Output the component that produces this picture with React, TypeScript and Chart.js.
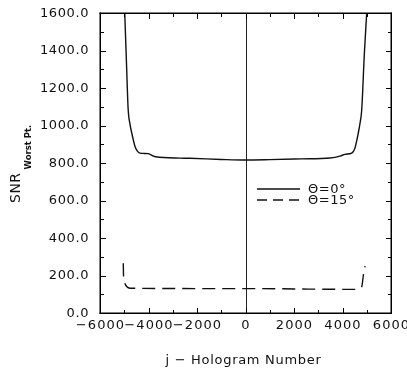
import React, { useEffect, useRef } from "react";
import { Chart, registerables } from "chart.js";

Chart.register(...registerables);

const xTicks = [-6000, -4000, -2000, 0, 2000, 4000, 6000];
const yTicks = [0, 200, 400, 600, 800, 1000, 1200, 1400, 1600];
const xMinorStep = 1000;
const yMinorStep = 100;

const seriesNames = ["\u0398=0\u00b0", "\u0398=15\u00b0"];

const theta0J = [-4980, -4910, -4840, -4760, -4690, -4620, -4550, -4450, -4350, -4180, -4020, -3850, -3700, -2700, -2300, -1000, 0, 1000, 2300, 3480, 3900, 4100, 4379, 4450, 4515, 4580, 4652, 4720, 4792, 4900, 4998];
const theta0V = [1600, 1340, 1090, 1005, 960, 920, 885, 862, 853, 851, 850, 840, 833, 826, 825, 819, 816, 818, 822, 827, 837, 846, 853, 862, 880, 915, 960, 1010, 1083, 1380, 1600];

const theta15J = [-5040, -5030, -4980, -4900, -4760, 0, 4580, 4790, 4860, 4930];
const theta15V = [265, 200, 160, 141, 132, 130, 126, 140, 200, 250];

const FONT = "'DejaVu Sans', sans-serif";

function fmtX(v: number) {
  return v < 0 ? "\u2212" + Math.abs(v) : String(v);
}

export default function App() {
  const ref = useRef<HTMLCanvasElement | null>(null);

  useEffect(() => {
    if (!ref.current) return;
    const framePlugin = {
      id: "frame",
      beforeDraw(chart: any) {
        const ctx = chart.ctx;
        ctx.save();
        ctx.fillStyle = "#fff";
        ctx.fillRect(0, 0, chart.width, chart.height);
        ctx.restore();
      },
      beforeDatasetsDraw(chart: any) {
        const ctx = chart.ctx;
        const a = chart.chartArea;
        const xs = chart.scales.x;
        ctx.save();
        ctx.fillStyle = "#222";
        const x0 = Math.round(xs.getPixelForValue(0));
        ctx.fillRect(x0, a.top, 1, a.bottom - a.top);
        ctx.restore();
      },
      afterDraw(chart: any) {
        const ctx = chart.ctx;
        const a = chart.chartArea;
        const xs = chart.scales.x;
        const ys = chart.scales.y;
        ctx.save();
        ctx.fillStyle = "#000";
        const L = Math.round(a.left);
        const R = Math.round(a.right);
        const T = Math.round(a.top);
        const B = Math.round(a.bottom);
        ctx.fillRect(L - 0.5, T - 0.5, R - L + 1.5, 1.5);
        ctx.fillRect(L - 0.5, B - 0.5, R - L + 1.5, 1.5);
        ctx.fillRect(L - 0.5, T - 0.5, 1.5, B - T + 1.5);
        ctx.fillRect(R - 0.5, T - 0.5, 1.5, B - T + 1.5);
        // ticks
        for (let v = xs.min; v <= xs.max; v += xMinorStep) {
          const px = Math.round(xs.getPixelForValue(v));
          const len = v % 2000 === 0 ? 5 : 3;
          ctx.fillRect(px, B - len, 1, len);
          ctx.fillRect(px, T + 1, 1, len);
        }
        for (let v = ys.min; v <= ys.max; v += yMinorStep) {
          const py = Math.round(ys.getPixelForValue(v));
          const len = v % 200 === 0 ? 5 : 3;
          ctx.fillRect(L + 1, py, len, 1);
          ctx.fillRect(R - len, py, len, 1);
        }
        // tick labels
        ctx.fillStyle = "#111";
        ctx.font = "13px " + FONT;
        (ctx as any).letterSpacing = "0.6px";
        ctx.textAlign = "right";
        ctx.textBaseline = "middle";
        yTicks.forEach((v) => {
          ctx.fillText(v.toFixed(1), a.left - 11, ys.getPixelForValue(v) + 0.5);
        });
        ctx.textAlign = "center";
        (ctx as any).letterSpacing = "1.1px";
        xTicks.forEach((v) => {
          ctx.fillText(fmtX(v), xs.getPixelForValue(v) + 0.5, a.bottom + 12.5);
        });
        // x title
        ctx.font = "13px " + FONT;
        (ctx as any).letterSpacing = "0.7px";
        ctx.fillText("j \u2212 Hologram Number", (a.left + a.right) / 2 - 2, 361);
        // y title
        ctx.save();
        ctx.translate(20, 203);
        ctx.rotate(-Math.PI / 2);
        ctx.textAlign = "left";
        ctx.textBaseline = "alphabetic";
        ctx.font = "14px " + FONT;
        (ctx as any).letterSpacing = "0.5px";
        ctx.fillText("SNR", 0, 0);
        const w = ctx.measureText("SNR").width;
        ctx.font = "bold 8.5px " + FONT;
        (ctx as any).letterSpacing = "0px";
        ctx.fillText("Worst Pt.", w + 3, 11);
        ctx.restore();
        // legend
        ctx.font = "13px " + FONT;
        (ctx as any).letterSpacing = "0.5px";
        ctx.textAlign = "left";
        ctx.textBaseline = "middle";
        ctx.strokeStyle = "#111";
        const lx0 = 257, lx1 = 300;
        const rows = [
          { y: 189, dash: [] as number[] },
          { y: 200, dash: [10, 6] },
        ];
        rows.forEach((r, i) => {
          ctx.beginPath();
          ctx.setLineDash(r.dash);
          ctx.lineWidth = 1.3;
          ctx.moveTo(lx0, r.y);
          ctx.lineTo(lx1, r.y);
          ctx.stroke();
          ctx.setLineDash([]);
          ctx.fillText(seriesNames[i], 308, r.y + 0.5);
        });
        ctx.restore();
      },
    };

    const chart = new Chart(ref.current, {
      type: "line",
      data: {
        datasets: [
          {
            label: seriesNames[0],
            data: theta0J.map((j, i) => ({ x: j, y: theta0V[i] })),
            borderColor: "#111",
            borderWidth: 1.4,
            pointRadius: 0,
            cubicInterpolationMode: "monotone",
            fill: false,
          },
          {
            label: seriesNames[1],
            data: theta15J.map((j, i) => ({ x: j, y: theta15V[i] })),
            borderColor: "#111",
            borderWidth: 1.4,
            borderDash: [13, 7],
            pointRadius: 0,
            cubicInterpolationMode: "monotone",
            fill: false,
          },
        ],
      },
      options: {
        animation: false,
        responsive: false,
        layout: { padding: { left: 100, top: 13, right: 16, bottom: 63 } },
        scales: {
          x: { type: "linear", min: -6000, max: 6000, display: false },
          y: { type: "linear", min: 0, max: 1600, display: false },
        },
        plugins: {
          legend: { display: false },
          tooltip: { enabled: false },
        },
      },
      plugins: [framePlugin],
    });
    return () => chart.destroy();
  }, []);

  return (
    <div style={{ position: "fixed", left: 0, top: 0, width: 407, height: 376, background: "#fff" }}>
      <canvas ref={ref} width={407} height={376} style={{ width: 407, height: 376, display: "block" }} />
    </div>
  );
}
